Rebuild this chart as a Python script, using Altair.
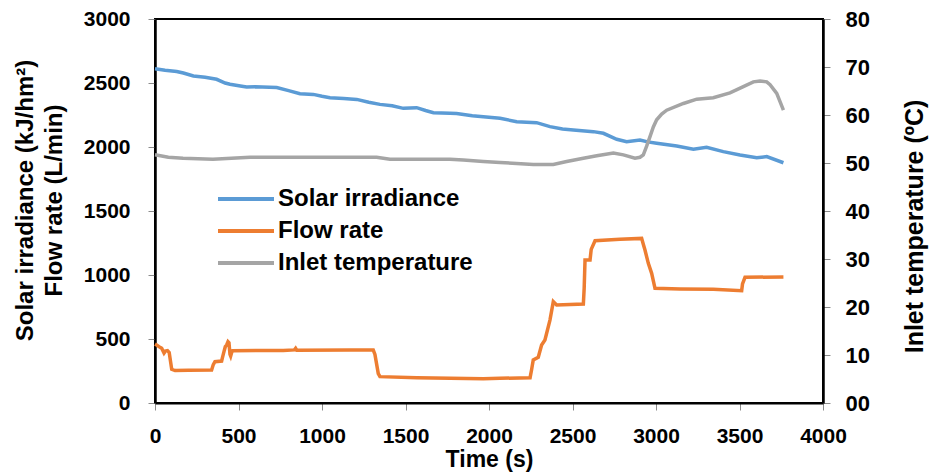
import altair as alt
import pandas as pd

# ---- data ----
solar_t = [0, 60, 130, 170, 230, 300, 369, 420, 449, 520, 549, 600, 729, 800, 868, 948, 1000, 1048,
           1130, 1208, 1280, 1347, 1420, 1487, 1567, 1620, 1667, 1766, 1806, 1900, 1966, 2066, 2166,
           2285, 2365, 2440, 2505, 2625, 2685, 2765, 2824, 2904, 2950, 3004, 3124, 3224, 3303, 3403,
           3503, 3603, 3663, 3763]
solar_v = [2612, 2600, 2590, 2578, 2555, 2545, 2529, 2500, 2490, 2474, 2468, 2470, 2464, 2440, 2416,
           2411, 2396, 2385, 2378, 2372, 2350, 2333, 2322, 2302, 2307, 2285, 2268, 2263, 2262, 2245,
           2237, 2224, 2198, 2190, 2159, 2140, 2133, 2120, 2107, 2060, 2042, 2055, 2040, 2029, 2008,
           1982, 1997, 1964, 1937, 1916, 1925, 1877]

flow_t = [0, 10, 30, 40, 54, 62, 75, 85, 100, 120, 200, 339, 349, 359, 399, 405, 413, 421, 429, 437,
          443, 449, 453, 459, 465, 768, 835, 842, 849, 1168, 1307, 1317, 1337, 1347, 1567, 1966, 2066,
          2246, 2255, 2265, 2295, 2315, 2335, 2365, 2385, 2405, 2565, 2570, 2575, 2605, 2612, 2635,
          2784, 2914, 2924, 2934, 2954, 2974, 2994, 3144, 3343, 3513, 3518, 3533, 3763]
flow_v = [460, 453, 435, 427, 390, 405, 409, 395, 263, 253, 255, 258, 300, 323, 328, 360, 401, 440, 453,
          479, 470, 380, 367, 395, 409, 410, 415, 427, 412, 414, 414, 380, 230, 206, 198, 190, 193, 198,
          260, 336, 357, 453, 492, 648, 792, 766, 773, 900, 1117, 1117, 1200, 1268, 1279, 1286, 1240,
          1195, 1091, 1013, 896, 891, 888, 877, 930, 982, 985]

temp_t = [0, 80, 168, 347, 569, 968, 1327, 1407, 1766, 1846, 1966, 2066, 2166, 2265, 2385, 2465, 2565,
          2645, 2745, 2805, 2874, 2904, 2924, 2944, 2964, 2984, 3004, 3034, 3064, 3164, 3244, 3343,
          3443, 3523, 3583, 3623, 3663, 3683, 3723, 3763]
temp_v = [51.7, 51.2, 51.0, 50.8, 51.2, 51.2, 51.2, 50.8, 50.8, 50.6, 50.3, 50.1, 49.9, 49.7, 49.7,
          50.3, 51.0, 51.5, 52.1, 51.7, 51.0, 51.2, 51.7, 53.5, 55.5, 57.5, 59.0, 60.2, 61.0, 62.4,
          63.3, 63.6, 64.6, 65.9, 66.9, 67.1, 66.9, 66.3, 64.5, 61.0]

series_names = ["Solar irradiance", "Flow rate", "Inlet temperature"]
series_colors = ["#5B9BD5", "#ED7D31", "#A5A5A5"]
x_ticks = [0, 500, 1000, 1500, 2000, 2500, 3000, 3500, 4000]
left_ticks = [0, 500, 1000, 1500, 2000, 2500, 3000]
right_ticks = [0, 10, 20, 30, 40, 50, 60, 70, 80]

left_df = pd.concat([
    pd.DataFrame({"t": solar_t, "v": solar_v, "series": series_names[0]}),
    pd.DataFrame({"t": flow_t, "v": flow_v, "series": series_names[1]}),
], ignore_index=True)
temp_df = pd.DataFrame({"t": temp_t, "v": temp_v, "series": series_names[2]})

FONT = "Liberation Sans"

color = alt.Color(
    "series:N",
    scale=alt.Scale(domain=series_names, range=series_colors),
    legend=alt.Legend(
        title=None, orient="none", legendX=79, legendY=168, direction="vertical",
        symbolType="M-4,0L4,0", symbolSize=196, symbolStrokeWidth=4,
        labelFont=FONT, labelFontSize=24, labelFontWeight="bold", labelColor="black",
        labelOffset=20, rowPadding=8, labelLimit=400,
    ),
)

x_enc = alt.X(
    "t:Q",
    scale=alt.Scale(domain=[0, 4000], nice=False, zero=False),
    axis=alt.Axis(
        values=x_ticks, format="d", title="Time (s)", grid=False,
        tickSize=7, tickColor="#8c8c8c", tickWidth=1,
        domainColor="black", domainWidth=2,
        labelFont=FONT, labelFontSize=21, labelFontWeight="bold", labelColor="black",
        labelPadding=15, labelFlush=False,
        titleFont=FONT, titleFontSize=23, titleFontWeight="bold", titleColor="black",
        titleBaseline="alphabetic", titleY=63,
    ),
)

left = alt.Chart(left_df).mark_line(strokeWidth=3.5).encode(
    x=x_enc,
    y=alt.Y(
        "v:Q",
        scale=alt.Scale(domain=[0, 3000], nice=False),
        axis=alt.Axis(
            values=left_ticks, format="d", grid=False,
            title=["Solar irradiance (kJ/hm²)", "Flow rate (L/min)"],
            tickSize=7, tickColor="#8c8c8c", tickWidth=1,
            domainColor="black", domainWidth=2.5,
            labelFont=FONT, labelFontSize=21, labelFontWeight="bold", labelColor="black",
            labelPadding=18, labelFlush=False,
            titleFont=FONT, titleFontSize=24, titleFontWeight="bold", titleColor="black",
            titleAngle=270, titleBaseline="middle", titleAlign="center",
            titleX=-130, titleY=181, titleLineHeight=29,
        ),
    ),
    color=color,
)

right = alt.Chart(temp_df).mark_line(strokeWidth=3.5).encode(
    x=x_enc,
    y=alt.Y(
        "v:Q",
        scale=alt.Scale(domain=[0, 80], nice=False),
        axis=alt.Axis(
            orient="right", values=right_ticks, format="02d", grid=False,
            title="Inlet  temperature (ºC)",
            tickSize=7, tickColor="#8c8c8c", tickWidth=1,
            domainColor="black", domainWidth=2.5,
            labelFont=FONT, labelFontSize=22, labelFontWeight="bold", labelColor="black",
            labelPadding=15, labelFlush=False,
            titleFont=FONT, titleFontSize=25, titleFontWeight="bold", titleColor="black",
            titleAngle=270, titleBaseline="middle", titleAlign="center",
            titleX=91, titleY=207,
        ),
    ),
    color=color,
)

chart = (
    alt.layer(left, right)
    .resolve_scale(y="independent")
    .properties(
        width=668, height=384,
        padding={"left": 155, "top": 19, "right": 107, "bottom": 72},
        autosize=alt.AutoSizeParams(type="none"),
        background="white",
    )
    .configure_view(stroke="black", strokeWidth=2)
)

chart.save("out.html", embed_options={"renderer": "svg", "actions": False})
